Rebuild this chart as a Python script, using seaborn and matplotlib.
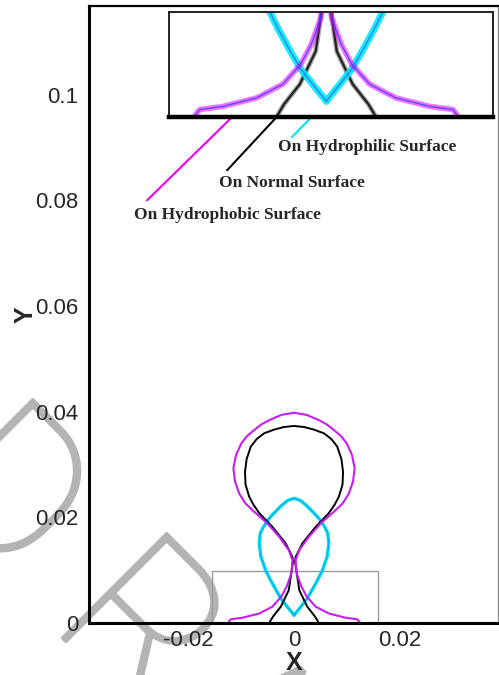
import numpy as np
import pandas as pd
import seaborn as sns
import matplotlib
matplotlib.use('Agg')
import matplotlib.pyplot as plt
import matplotlib.patheffects as pe
from matplotlib.patches import Rectangle
from matplotlib.ticker import MultipleLocator

# bubble outlines, right half only (x >= 0), from the wall up to the top
phobic_x = [0.0124, 0.0120, 0.0098, 0.0066, 0.0041, 0.0024, 0.0014, 0.0005, 0.0003, 0.0010,
            0.0028, 0.0051, 0.0076, 0.0092, 0.0104, 0.0112, 0.0115, 0.0110, 0.0100, 0.0089,
            0.0076, 0.0062, 0.0047, 0.0024, 0.0]
phobic_y = [0.0002, 0.0007, 0.0010, 0.0018, 0.0031, 0.0050, 0.0069, 0.0094, 0.0119, 0.0138,
            0.0163, 0.0189, 0.0211, 0.0226, 0.0245, 0.0268, 0.0293, 0.0318, 0.0340, 0.0354,
            0.0365, 0.0376, 0.0384, 0.0394, 0.0398]

normal_x = [0.0046, 0.0040, 0.0025, 0.0010, 0.0002, 0.0003, 0.0016, 0.0041, 0.0066, 0.0077,
            0.0085, 0.0092, 0.0093, 0.0090, 0.0082, 0.0071, 0.0057, 0.0038, 0.0019, 0.0]
normal_y = [0.0002, 0.0012, 0.0031, 0.0062, 0.0116, 0.0125, 0.0151, 0.0182, 0.0208, 0.0224,
            0.0239, 0.0262, 0.0286, 0.0310, 0.0334, 0.0348, 0.0359, 0.0366, 0.0371, 0.0373]

philic_x = [0.0, 0.0013, 0.0024, 0.0034, 0.0045, 0.0054, 0.0063, 0.0066, 0.0064, 0.0058,
            0.0048, 0.0038, 0.0023, 0.0012, 0.0]
philic_y = [0.0015, 0.0031, 0.0045, 0.0062, 0.0082, 0.0100, 0.0126, 0.0151, 0.0170, 0.0182,
            0.0197, 0.0208, 0.0223, 0.0232, 0.0236]

xticks = [-0.02, 0, 0.02]
xtick_labels = ['-0.02', '0', '0.02']
yticks = [0, 0.02, 0.04, 0.06, 0.08, 0.1]
ytick_labels = ['0', '0.02', '0.04', '0.06', '0.08', '0.1']


def full_outline(hx, hy):
    # left half goes up, right half comes back down
    x = [-v for v in hx] + list(hx[::-1][1:])
    y = list(hy) + list(hy[::-1][1:])
    return x, y


frames = []
for name, hx, hy in [('phobic', phobic_x, phobic_y),
                     ('normal', normal_x, normal_y),
                     ('philic', philic_x, philic_y)]:
    x, y = full_outline(hx, hy)
    frames.append(pd.DataFrame({'x': x, 'y': y, 'surface': name}))
df = pd.concat(frames, ignore_index=True)

colors = {'phobic': '#c81cf2', 'normal': 'black', 'philic': '#00dced'}
widths = {'phobic': 1.5, 'normal': 1.4, 'philic': 2.4}

sns.set_style('white')
plt.rcParams['font.family'] = ['Liberation Sans', 'DejaVu Sans']
plt.rcParams['axes.unicode_minus'] = False

W, H = 499, 675
fig = plt.figure(figsize=(W / 100, H / 100), dpi=100)

# watermark behind everything
wm_o = np.array([48.0, H - 624.0])
wm_u = np.array([np.cos(np.deg2rad(-45)), np.sin(np.deg2rad(-45))])
for k, ch in enumerate('DRAFT'):
    p = wm_o + (k - 1) * 150 * wm_u - 40 * wm_u * (k == 0)
    fig.text(p[0] / W, p[1] / H, ch, rotation=-45, rotation_mode='anchor',
             ha='left', va='baseline', fontsize=150, color='#b4b4b4',
             family='Roboto', fontweight=100, zorder=-5,
             path_effects=[pe.withStroke(linewidth=2, foreground='#b4b4b4')])

ax = fig.add_axes([89 / W, 1 - 623 / H, 409 / W, 617 / H])
ax.patch.set_alpha(0)

for name in ['philic', 'normal', 'phobic']:
    d = df[df.surface == name]
    sns.lineplot(data=d, x='x', y='y', sort=False, estimator=None, color=colors[name],
                 lw=widths[name], ax=ax, legend=False)
d = df[df.surface == 'philic']
ax.plot(d.x, d.y, color='#1e6cff', lw=0.5, alpha=0.6)

ax.add_patch(Rectangle((-0.0155, 0), 0.0314, 0.0099, fill=False, ec='#9a9a9a', lw=1))

ax.set_xlim(-0.0389, 0.0387)
ax.set_ylim(0, 0.1168)
ax.set_xticks(xticks)
ax.set_xticklabels(xtick_labels)
ax.set_yticks(yticks)
ax.set_yticklabels(ytick_labels)
ax.xaxis.set_minor_locator(MultipleLocator(0.005))
ax.yaxis.set_minor_locator(MultipleLocator(0.005))
ax.tick_params(which='major', direction='in', length=11, width=1.8, labelsize=16, pad=7.5)
ax.tick_params(axis='x', which='major', pad=5)
ax.tick_params(which='minor', direction='in', length=6, width=0.9)
ax.tick_params(top=False, right=False, which='both')

for s in ['left', 'bottom']:
    ax.spines[s].set_linewidth(2.2)
    ax.spines[s].set_color('black')
ax.spines['top'].set_linewidth(1.6)
ax.spines['top'].set_color('black')
ax.spines['right'].set_linewidth(1)
ax.spines['right'].set_color('#8c8c8c')

ax.set_xlabel('X', fontsize=18, fontweight='bold')
ax.set_ylabel('Y', fontsize=18, fontweight='bold')
ax.xaxis.set_label_coords(0.501, -0.045)
ax.yaxis.set_label_coords(-0.125, 0.5)

# labels and leader lines
lab = dict(family='Liberation Serif', fontweight='bold', fontsize=12.5, ha='center', va='center')
ax.text(0.0138, 0.0901, 'On Hydrophilic Surface', **lab)
ax.text(-0.0004, 0.0833, 'On Normal Surface', **lab)
ax.text(-0.0127, 0.0772, 'On Hydrophobic Surface', **lab)
ax.plot([-0.0004, 0.0059], [0.0920, 0.0984], color='#00e5ff', lw=1.5)
ax.plot([-0.0127, -0.0030], [0.0857, 0.0961], color='black', lw=1.5)
ax.plot([-0.0279, -0.0108], [0.0800, 0.0967], color='#f000f0', lw=1.5)

# zoomed view of the contact region
ins = fig.add_axes([169 / W, 1 - 117 / H, 324 / W, 105 / H])
ins.patch.set_facecolor('white')
glow = {'phobic': ('#e600ff', 4.0, 0.55), 'normal': ('black', 3.5, 0.35), 'philic': ('#00e8f5', 5.0, 0.9)}
core = {'phobic': ('#3b3bff', 1.0), 'normal': ('black', 1.6), 'philic': ('#2a5cff', 0.9)}
for name in ['normal', 'philic', 'phobic']:
    d = df[df.surface == name]
    c, w, a = glow[name]
    sns.lineplot(data=d, x='x', y='y', sort=False, estimator=None, color=c, lw=w,
                 alpha=a, ax=ins, legend=False)
    ins.plot(d.x, d.y, color=core[name][0], lw=core[name][1], alpha=0.8)
ins.set_xlim(-0.0149, 0.0158)
ins.set_ylim(0, 0.0099)
ins.set_xticks([])
ins.set_yticks([])
ins.set_xlabel('')
ins.set_ylabel('')
for s in ['left', 'right', 'top']:
    ins.spines[s].set_linewidth(1.4)
    ins.spines[s].set_color('#222222')
ins.spines['bottom'].set_linewidth(3.2)
ins.spines['bottom'].set_color('black')

fig.savefig('out.png', dpi=100)
